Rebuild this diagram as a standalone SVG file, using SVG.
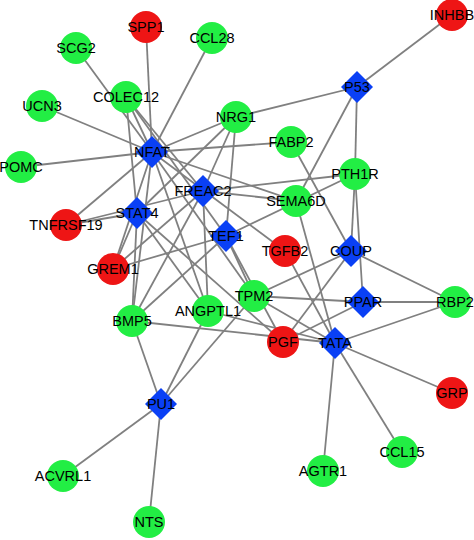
<svg xmlns="http://www.w3.org/2000/svg" width="474" height="540" viewBox="0 0 474 540">
<defs>
<style>
.e{stroke:#808080;stroke-width:1.8;fill:none}
.g{fill:#22ee44}
.r{fill:#ee1515}
.b{fill:#0a40f5}
text{font-family:"Liberation Sans",Arial,sans-serif;font-size:14.5px;fill:#000;text-anchor:middle}
</style>
<polygon id="dia" points="0,-16 16,0 0,16 -16,0"/>
</defs>
<rect width="474" height="540" fill="#fff"/>
<g id="edges" class="e">
<!-- NFAT -->
<line x1="152" y1="152" x2="146" y2="27"/>
<line x1="152" y1="152" x2="212" y2="38"/>
<line x1="152" y1="152" x2="76" y2="48"/>
<line x1="152" y1="152" x2="42" y2="106"/>
<line x1="152" y1="152" x2="21" y2="167"/>
<line x1="152" y1="152" x2="126" y2="97"/>
<line x1="152" y1="152" x2="236" y2="117"/>
<line x1="152" y1="152" x2="291" y2="142"/>
<line x1="152" y1="152" x2="296" y2="201"/>
<line x1="152" y1="152" x2="66" y2="225"/>
<line x1="152" y1="152" x2="113" y2="269"/>
<line x1="152" y1="152" x2="132" y2="321"/>
<line x1="152" y1="152" x2="208" y2="311"/>
<line x1="152" y1="152" x2="285" y2="251"/>
<line x1="152" y1="152" x2="254" y2="296"/>
<!-- FREAC2 -->
<line x1="203" y1="191" x2="126" y2="97"/>
<line x1="203" y1="191" x2="236" y2="117"/>
<line x1="203" y1="191" x2="355" y2="174"/>
<line x1="203" y1="191" x2="296" y2="201"/>
<line x1="203" y1="191" x2="113" y2="269"/>
<line x1="203" y1="191" x2="132" y2="321"/>
<line x1="203" y1="191" x2="208" y2="311"/>
<line x1="203" y1="191" x2="66" y2="225"/>
<!-- STAT4 -->
<line x1="137" y1="213" x2="126" y2="97"/>
<line x1="137" y1="213" x2="236" y2="117"/>
<line x1="137" y1="213" x2="113" y2="269"/>
<line x1="137" y1="213" x2="132" y2="321"/>
<line x1="137" y1="213" x2="208" y2="311"/>
<line x1="137" y1="213" x2="283" y2="342"/>
<line x1="137" y1="213" x2="66" y2="225"/>
<!-- TEF1 -->
<line x1="226" y1="236" x2="126" y2="97"/>
<line x1="226" y1="236" x2="236" y2="117"/>
<line x1="226" y1="236" x2="355" y2="174"/>
<line x1="226" y1="236" x2="113" y2="269"/>
<line x1="226" y1="236" x2="132" y2="321"/>
<line x1="226" y1="236" x2="254" y2="296"/>
<line x1="226" y1="236" x2="283" y2="342"/>
<!-- P53 -->
<line x1="357" y1="87" x2="452" y2="15"/>
<line x1="357" y1="87" x2="236" y2="117"/>
<line x1="357" y1="87" x2="355" y2="174"/>
<line x1="357" y1="87" x2="296" y2="201"/>
<!-- COUP -->
<line x1="351" y1="251" x2="291" y2="142"/>
<line x1="351" y1="251" x2="355" y2="174"/>
<line x1="351" y1="251" x2="455" y2="302"/>
<line x1="351" y1="251" x2="254" y2="296"/>
<line x1="351" y1="251" x2="283" y2="342"/>
<!-- PPAR -->
<line x1="363" y1="302" x2="355" y2="174"/>
<line x1="363" y1="302" x2="455" y2="302"/>
<line x1="363" y1="302" x2="254" y2="296"/>
<line x1="363" y1="302" x2="283" y2="342"/>
<!-- TATA -->
<line x1="335" y1="343" x2="296" y2="201"/>
<line x1="335" y1="343" x2="285" y2="251"/>
<line x1="335" y1="343" x2="254" y2="296"/>
<line x1="335" y1="343" x2="455" y2="302"/>
<line x1="335" y1="343" x2="452" y2="393"/>
<line x1="335" y1="343" x2="402" y2="452"/>
<line x1="335" y1="343" x2="323" y2="471"/>
<line x1="335" y1="343" x2="132" y2="321"/>
<line x1="335" y1="343" x2="208" y2="311"/>
<!-- PU1 -->
<line x1="161" y1="404" x2="132" y2="321"/>
<line x1="161" y1="404" x2="208" y2="311"/>
<line x1="161" y1="404" x2="254" y2="296"/>
<line x1="161" y1="404" x2="63" y2="476"/>
<line x1="161" y1="404" x2="149" y2="522"/>
</g>
<g id="n-SPP1"><circle class="r" cx="146" cy="27" r="16"/><text x="146" y="32">SPP1</text></g>
<g id="n-CCL28"><circle class="g" cx="212" cy="38" r="16"/><text x="212" y="43">CCL28</text></g>
<g id="n-SCG2"><circle class="g" cx="76" cy="48" r="16"/><text x="76" y="53">SCG2</text></g>
<g id="n-INHBB"><circle class="r" cx="452" cy="15" r="16"/><text x="452" y="20">INHBB</text></g>
<g id="n-COLEC12"><circle class="g" cx="126" cy="97" r="16"/><text x="126" y="102">COLEC12</text></g>
<g id="n-UCN3"><circle class="g" cx="42" cy="106" r="16"/><text x="42" y="111">UCN3</text></g>
<g id="n-NRG1"><circle class="g" cx="236" cy="117" r="16"/><text x="236" y="122">NRG1</text></g>
<g id="n-P53"><use href="#dia" class="b" x="357" y="87"/><text x="357" y="92">P53</text></g>
<g id="n-NFAT"><use href="#dia" class="b" x="152" y="152"/><text x="152" y="157">NFAT</text></g>
<g id="n-FABP2"><circle class="g" cx="291" cy="142" r="16"/><text x="291" y="147">FABP2</text></g>
<g id="n-POMC"><circle class="g" cx="21" cy="167" r="16"/><text x="21" y="172">POMC</text></g>
<g id="n-PTH1R"><circle class="g" cx="355" cy="174" r="16"/><text x="355" y="179">PTH1R</text></g>
<g id="n-FREAC2"><use href="#dia" class="b" x="203" y="191"/><text x="203" y="196">FREAC2</text></g>
<g id="n-SEMA6D"><circle class="g" cx="296" cy="201" r="16"/><text x="296" y="206">SEMA6D</text></g>
<g id="n-STAT4"><use href="#dia" class="b" x="137" y="213"/><text x="137" y="218">STAT4</text></g>
<g id="n-TNFRSF19"><circle class="r" cx="66" cy="225" r="16"/><text x="66" y="230">TNFRSF19</text></g>
<g id="n-TEF1"><use href="#dia" class="b" x="226" y="236"/><text x="226" y="241">TEF1</text></g>
<g id="n-TGFB2"><circle class="r" cx="285" cy="251" r="16"/><text x="285" y="256">TGFB2</text></g>
<g id="n-COUP"><use href="#dia" class="b" x="351" y="251"/><text x="351" y="256">COUP</text></g>
<g id="n-GREM1"><circle class="r" cx="113" cy="269" r="16"/><text x="113" y="274">GREM1</text></g>
<g id="n-TPM2"><circle class="g" cx="254" cy="296" r="16"/><text x="254" y="301">TPM2</text></g>
<g id="n-PPAR"><use href="#dia" class="b" x="363" y="302"/><text x="363" y="307">PPAR</text></g>
<g id="n-RBP2"><circle class="g" cx="455" cy="302" r="16"/><text x="455" y="307">RBP2</text></g>
<g id="n-ANGPTL1"><circle class="g" cx="208" cy="311" r="16"/><text x="208" y="316">ANGPTL1</text></g>
<g id="n-BMP5"><circle class="g" cx="132" cy="321" r="16"/><text x="132" y="326">BMP5</text></g>
<g id="n-PGF"><circle class="r" cx="283" cy="342" r="16"/><text x="283" y="347">PGF</text></g>
<g id="n-TATA"><use href="#dia" class="b" x="335" y="343"/><text x="335" y="348">TATA</text></g>
<g id="n-PU1"><use href="#dia" class="b" x="161" y="404"/><text x="161" y="409">PU1</text></g>
<g id="n-GRP"><circle class="r" cx="452" cy="393" r="16"/><text x="452" y="398">GRP</text></g>
<g id="n-CCL15"><circle class="g" cx="402" cy="452" r="16"/><text x="402" y="457">CCL15</text></g>
<g id="n-AGTR1"><circle class="g" cx="323" cy="471" r="16"/><text x="323" y="476">AGTR1</text></g>
<g id="n-ACVRL1"><circle class="g" cx="63" cy="476" r="16"/><text x="63" y="481">ACVRL1</text></g>
<g id="n-NTS"><circle class="g" cx="149" cy="522" r="16"/><text x="149" y="527">NTS</text></g>
</svg>
